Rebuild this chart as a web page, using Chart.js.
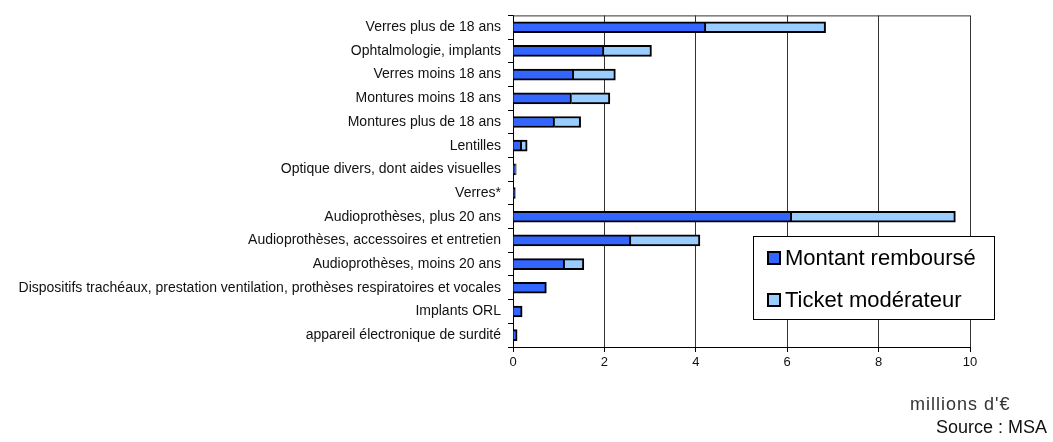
<!DOCTYPE html>
<html>
<head>
<meta charset="utf-8">
<script src="https://cdn.jsdelivr.net/npm/chart.js@4/dist/chart.umd.min.js"></script>
<style>
  html, body { margin:0; padding:0; background:#fff; }
  #wrap { position:relative; width:1053px; height:442px; font-family:"Liberation Sans", Arial, sans-serif; }
  #unit { position:absolute; left:910px; top:393px; height:17px; overflow:hidden; font-size:18px; letter-spacing:1px; color:#333; line-height:22px; }
  #source { position:absolute; left:936px; top:417px; font-size:18px; color:#111; }
</style>
</head>
<body>
<div id="wrap">
  <canvas id="chart" width="1053" height="442"></canvas>
  <div id="unit">millions d'€</div>
  <div id="source">Source : MSA</div>
</div>
<script>
// categories, top to bottom
const categories = [
  "Verres plus de 18 ans",
  "Ophtalmologie, implants",
  "Verres moins 18 ans",
  "Montures moins 18 ans",
  "Montures plus de 18 ans",
  "Lentilles",
  "Optique divers, dont aides visuelles",
  "Verres*",
  "Audioprothèses, plus 20 ans",
  "Audioprothèses, accessoires et entretien",
  "Audioprothèses, moins 20 ans",
  "Dispositifs trachéaux, prestation ventilation, prothèses respiratoires et vocales",
  "Implants ORL",
  "appareil électronique de surdité"
];
// millions d'euros
const montantRembourse = [4.22, 1.99, 1.33, 1.28, 0.91, 0.19, 0.05, 0.04, 6.10, 2.58, 1.13, 0.73, 0.20, 0.09];
const ticketModerateur = [2.62, 1.04, 0.91, 0.84, 0.57, 0.12, 0.02, 0.01, 3.58, 1.51, 0.42, 0, 0, 0];
const xTicks = [0, 2, 4, 6, 8, 10];

const FONT = '"Liberation Sans", Arial, sans-serif';

// thin frame on top of the plot area
const topFrame = {
  id: 'topFrame',
  afterDraw(chart){
    const {ctx, chartArea:a} = chart;
    ctx.save();
    ctx.strokeStyle = '#333';
    ctx.lineWidth = 1;
    ctx.beginPath();
    ctx.moveTo(a.left, a.top + 0.5);
    ctx.lineTo(a.right, a.top + 0.5);
    ctx.stroke();
    ctx.restore();
  }
};

// boxed legend sitting inside the plot, lower right
const boxLegend = {
  id: 'boxLegend',
  afterDraw(chart){
    const {ctx} = chart;
    const bx = 753, by = 236, bw = 241, bh = 83;
    ctx.save();
    ctx.fillStyle = '#fff';
    ctx.fillRect(bx, by, bw, bh);
    ctx.strokeStyle = '#000';
    ctx.lineWidth = 1;
    ctx.strokeRect(bx + 0.5, by + 0.5, bw, bh);
    ctx.font = '22px ' + FONT;
    ctx.textBaseline = 'middle';
    chart.data.datasets.forEach((ds, i) => {
      const cy = by + 22 + i * 42;
      ctx.fillStyle = ds.backgroundColor;
      ctx.fillRect(bx + 15, cy - 6, 12, 12);
      ctx.lineWidth = 2;
      ctx.strokeStyle = '#000';
      ctx.strokeRect(bx + 15, cy - 6, 12, 12);
      ctx.fillStyle = '#000';
      ctx.fillText(ds.label, bx + 32, cy + 1);
    });
    ctx.restore();
  }
};

new Chart(document.getElementById('chart').getContext('2d'), {
  type: 'bar',
  data: {
    labels: categories,
    datasets: [
      { label: 'Montant remboursé', data: montantRembourse, backgroundColor: '#3366FF', borderColor: '#000', borderWidth: 2, barThickness: 11 },
      { label: 'Ticket modérateur', data: ticketModerateur, backgroundColor: '#99CCFF', borderColor: '#000', borderWidth: 2, barThickness: 11 }
    ]
  },
  options: {
    indexAxis: 'y',
    responsive: false,
    animation: false,
    layout: { padding: { top: 6, right: 83, left: 0, bottom: 0 } },
    plugins: { legend: { display: false }, tooltip: { enabled: false } },
    scales: {
      x: {
        stacked: true,
        min: 0, max: 10,
        afterBuildTicks: s => { s.ticks = xTicks.map(v => ({ value: v })); },
        afterFit: s => { s.height = 95; },
        grid: { color: '#333', lineWidth: 1, drawTicks: true, tickLength: 5, tickColor: '#000' },
        border: { color: '#000', width: 1 },
        ticks: { font: { family: FONT, size: 13 }, color: '#111', padding: 3 }
      },
      y: {
        stacked: true,
        afterFit: s => { s.width = 513; },
        grid: { drawOnChartArea: false, drawTicks: true, tickLength: 5, tickColor: '#000' },
        border: { color: '#000', width: 1 },
        ticks: { font: { family: FONT, size: 14 }, color: '#111', padding: 7, autoSkip: false }
      }
    }
  },
  plugins: [topFrame, boxLegend]
});
</script>
</body>
</html>
